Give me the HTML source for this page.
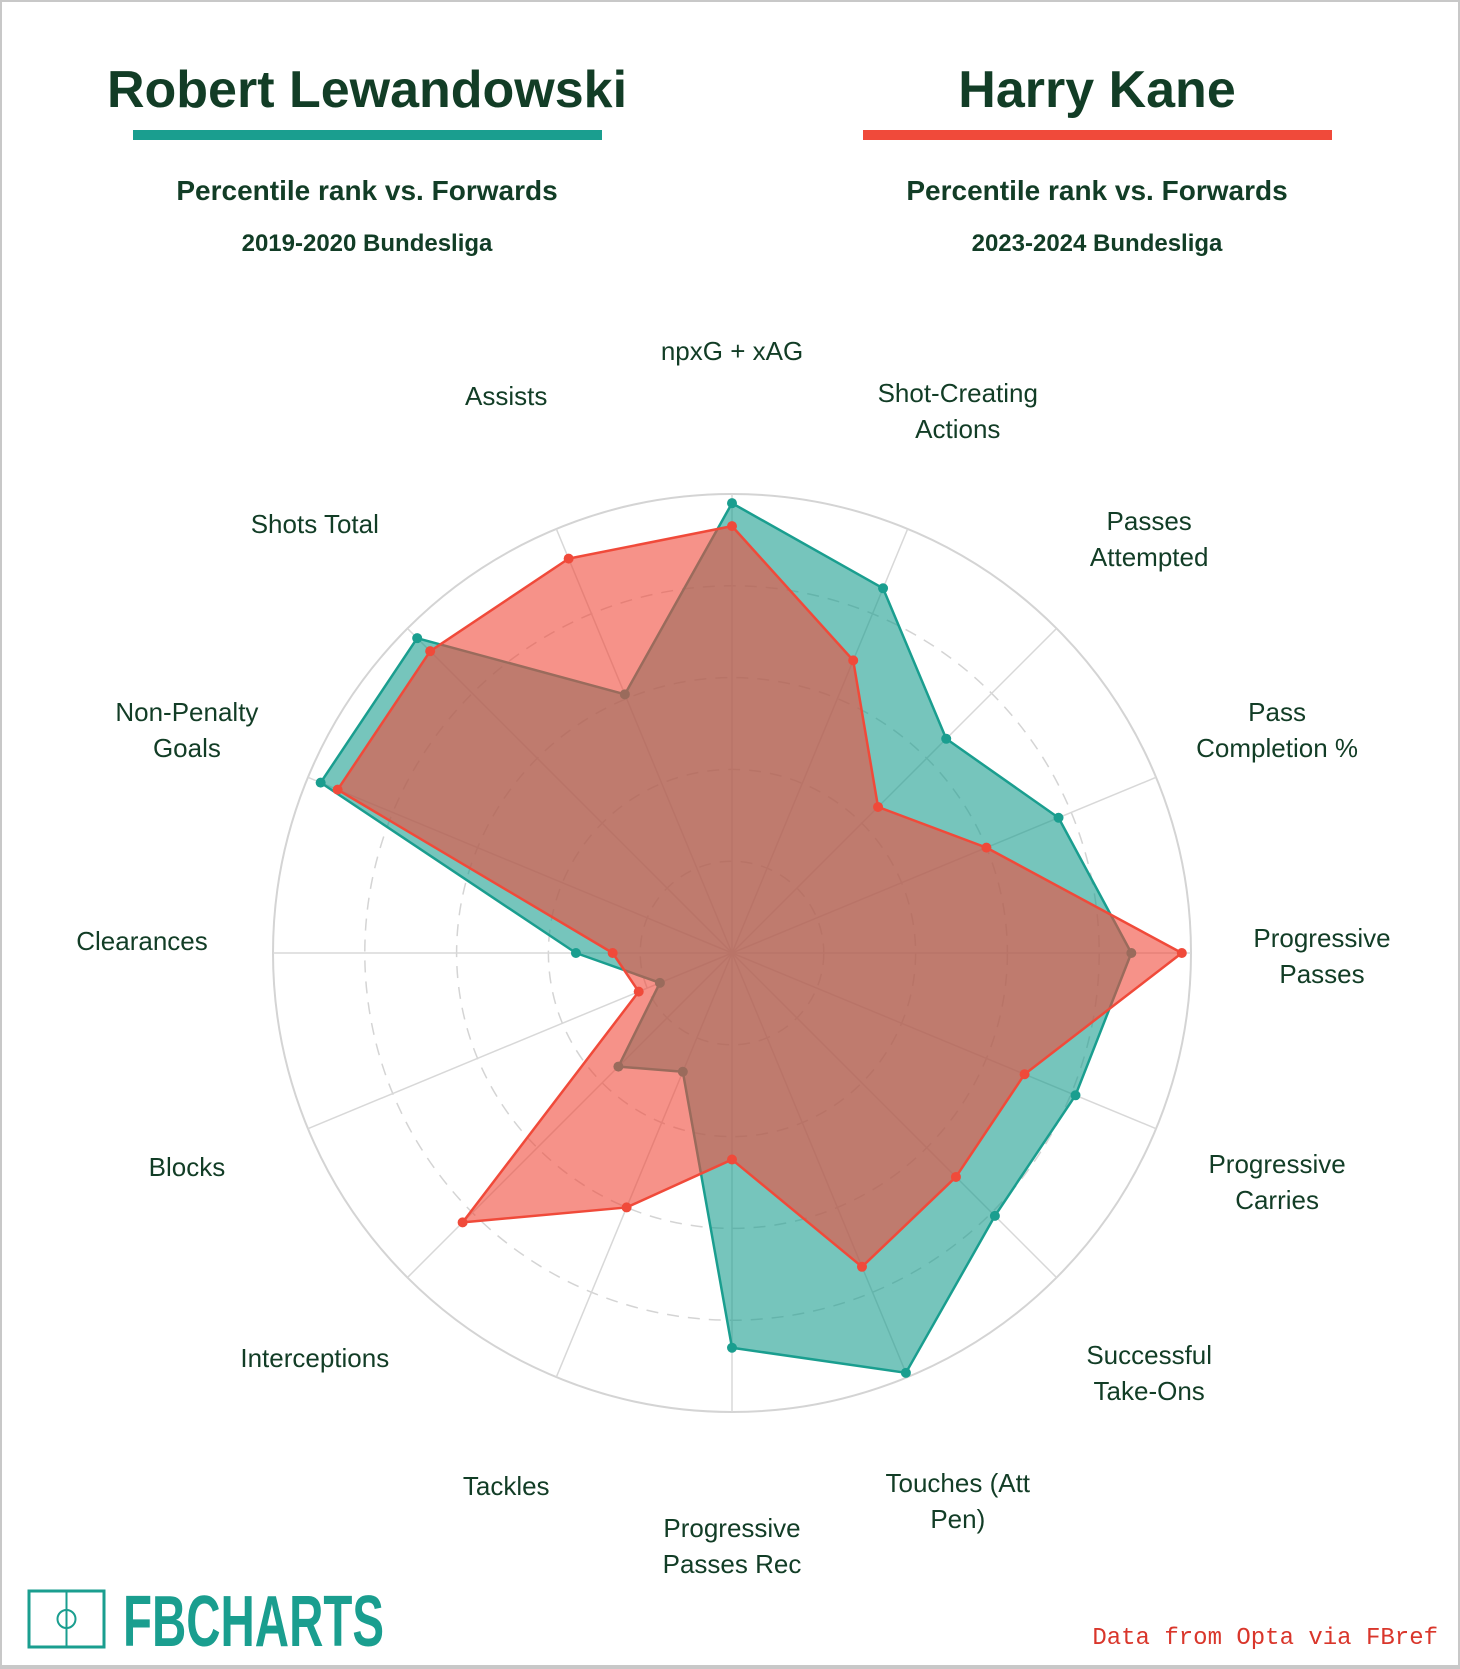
<!DOCTYPE html>
<html><head><meta charset="utf-8">
<style>
html,body{margin:0;padding:0;background:#fff}
#wrap{position:relative;width:1460px;height:1669px;box-sizing:border-box;border:2px solid #c8c8c8;border-bottom-width:4px;overflow:hidden;font-family:"Liberation Sans",Arial,sans-serif;color:#123d26}
.t{position:absolute;text-align:center;white-space:nowrap}
svg{position:absolute;left:0;top:0}
</style></head><body>
<div id="wrap">
<div class="t" style="left:65px;width:600px;top:58px;font-size:52px;font-weight:bold">Robert Lewandowski</div>
<div style="position:absolute;left:131px;top:128px;width:469px;height:10px;background:#1a9e8f"></div>
<div class="t" style="left:65px;width:600px;top:173px;font-size:28px;font-weight:bold">Percentile rank vs. Forwards</div>
<div class="t" style="left:65px;width:600px;top:228px;font-size:24px;font-weight:bold">2019-2020 Bundesliga</div>
<div class="t" style="left:795px;width:600px;top:58px;font-size:52px;font-weight:bold">Harry Kane</div>
<div style="position:absolute;left:861px;top:128px;width:469px;height:10px;background:#f04a3a"></div>
<div class="t" style="left:795px;width:600px;top:173px;font-size:28px;font-weight:bold">Percentile rank vs. Forwards</div>
<div class="t" style="left:795px;width:600px;top:228px;font-size:24px;font-weight:bold">2023-2024 Bundesliga</div>

<svg id="chart" width="1460" height="1669"></svg>

<svg width="1460" height="1669" style="pointer-events:none">
<g>
<rect x="27" y="1589" width="75" height="56" fill="none" stroke="#1a9e8f" stroke-width="3"/>
<line x1="64.5" y1="1589" x2="64.5" y2="1645" stroke="#1a9e8f" stroke-width="2"/>
<circle cx="64.5" cy="1617" r="9" fill="none" stroke="#1a9e8f" stroke-width="2"/>
<text x="121" y="1644" font-family="Liberation Sans Narrow, Liberation Sans, sans-serif" font-size="72" font-weight="bold" fill="#1a9e8f" textLength="261" lengthAdjust="spacingAndGlyphs">FBCHARTS</text>
</g>
<text x="1436" y="1642" text-anchor="end" font-family="Liberation Mono, monospace" font-size="24" fill="#d9362b">Data from Opta via FBref</text>
</svg>
</div>
<script>
const categories = ["npxG + xAG","Shot-Creating|Actions","Passes|Attempted","Pass|Completion %","Progressive|Passes","Progressive|Carries","Successful|Take-Ons","Touches (Att|Pen)","Progressive|Passes Rec","Tackles","Interceptions","Blocks","Clearances","Non-Penalty|Goals","Shots Total","Assists"];
const lewandowski = [98,86,66,77,87,81,81,99,86,28,35,17,34,97,97,61];
const kane = [93,69,45,60,98,69,69,74,45,60,83,22,26,93,93,93];
const rings = [20,40,60,80,100];

const NS="http://www.w3.org/2000/svg";
const svg=document.getElementById('chart');
const cx=730, cy=951, R=459, LR=590;
const n=categories.length;
function ang(i){return i*2*Math.PI/n;}
function px(i,v){return cx+Math.sin(ang(i))*R*v/100;}
function py(i,v){return cy-Math.cos(ang(i))*R*v/100;}
function mk(tag,attrs){const e=document.createElementNS(NS,tag);for(const k in attrs)e.setAttribute(k,attrs[k]);svg.appendChild(e);return e;}

rings.forEach(r=>{
  const c=mk('circle',{cx:cx,cy:cy,r:R*r/100,fill:'none',stroke:'#d4d4d4','stroke-width':r===100?2:1.5,'stroke-dasharray':r===100?'none':'12 9'});
  
  
});
categories.forEach((c,i)=>{
  const l=mk('line',{x1:cx,y1:cy,x2:px(i,100),y2:py(i,100),stroke:'#d8d8d8','stroke-width':1.5});
  
  
});
function series(vals,color,name){
  const pts=vals.map((v,i)=>px(i,v)+','+py(i,v)).join(' ');
  const p=mk('polygon',{points:pts,fill:color,'fill-opacity':0.6,stroke:color,'stroke-width':2.5,'stroke-linejoin':'round'});
  
  
  vals.forEach((v,i)=>{
    const d=mk('circle',{cx:px(i,v),cy:py(i,v),r:5,fill:color});
    
    
  });
}
series(lewandowski,'#1a9e8f','lewandowski');
series(kane,'#f04a3a','kane');
categories.forEach((c,i)=>{
  const lines=c.split('|');
  const x=cx+Math.sin(ang(i))*LR, y=cy-Math.cos(ang(i))*LR;
  const t=mk('text',{x:x,'text-anchor':'middle','font-family':'Liberation Sans, sans-serif','font-size':26,fill:'#123d26'});
  
  
  const lh=36;
  const y0 = lines.length>1 ? y-lh/2+12 : y-3;
  lines.forEach((s,k)=>{const ts=document.createElementNS(NS,'tspan');ts.setAttribute('x',x);ts.setAttribute('y',y0+k*lh);ts.textContent=s;t.appendChild(ts);});
});
</script>
</body></html>
